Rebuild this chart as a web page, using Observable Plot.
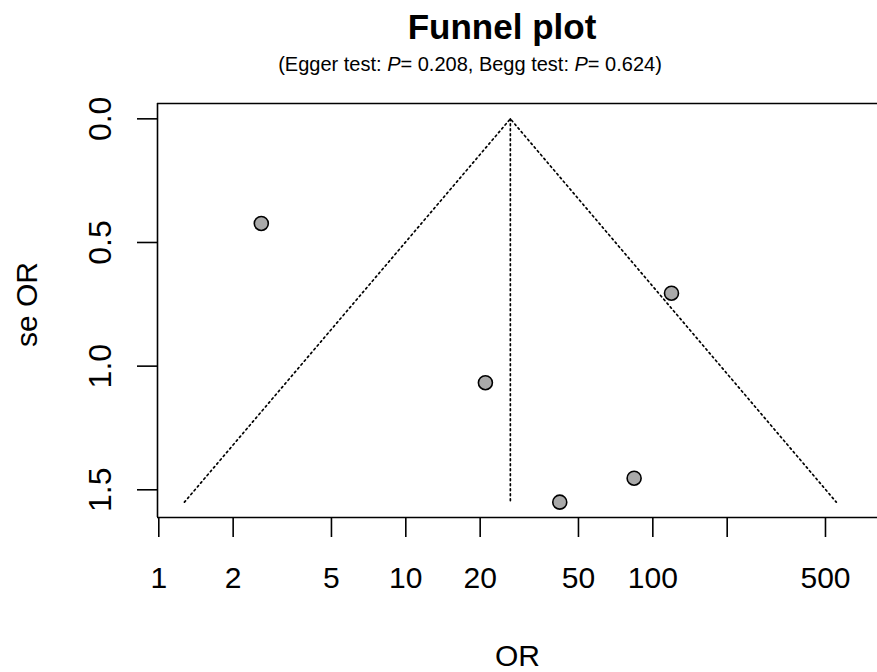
<!DOCTYPE html>
<html>
<head>
<meta charset="utf-8">
<script src="https://cdn.jsdelivr.net/npm/d3@7"></script>
<script src="https://cdn.jsdelivr.net/npm/@observablehq/plot@0.6"></script>
<style>
  html, body { margin: 0; padding: 0; background: #fff; }
  #wrap { position: relative; width: 877px; height: 672px; font-family: "Liberation Sans", Arial, sans-serif; color: #000; }
  #title { position: absolute; top: 9px; left: 502px; transform: translateX(-50%); font-size: 35px; font-weight: bold; line-height: 1; white-space: nowrap; }
  #subtitle { position: absolute; top: 54px; left: 470px; transform: translateX(-50%); font-size: 20px; line-height: 1; white-space: nowrap; }
  #chart svg { display: block; }
</style>
</head>
<body>
<div id="wrap">
  <div id="chart"></div>
  <div id="title">Funnel plot</div>
  <div id="subtitle">(Egger test: <i>P</i>= 0.208, Begg test: <i>P</i>= 0.624)</div>
</div>
<script>
// Study estimates (odds ratio, standard error)
const studyOR = [2.6, 21.0, 42.0, 84.0, 119.0];
const studySE = [0.423, 1.067, 1.55, 1.453, 0.705];

// Pooled estimate and pseudo-95% funnel limits
const pooledOR = 26.5;
const funnelOR = [1.27, 26.5, 553];
const funnelSE = [1.55, 0, 1.55];
const centerSE = [0, 1.55];

// Axis ticks
const xTicks = [1, 2, 5, 10, 20, 50, 100, 200, 500];
const xTickLabels = ["1", "2", "5", "10", "20", "50", "100", "", "500"];
const yTicks = [0, 0.5, 1.0, 1.5];
const yTickLabels = ["0.0", "0.5", "1.0", "1.5"];

const xDomain = [0.988, 812];
const yDomain = [-0.062, 1.612];

const studies = studyOR.map((d, i) => ({or: d, se: studySE[i]}));
const funnel = funnelOR.map((d, i) => ({or: d, se: funnelSE[i]}));
const center = centerSE.map(s => ({or: pooledOR, se: s}));

const font = "'Liberation Sans', Arial, sans-serif";

const chart = Plot.plot({
  width: 877,
  height: 672,
  marginLeft: 157,
  marginRight: 0,
  marginTop: 103,
  marginBottom: 155,
  style: {fontFamily: font, color: "#000", background: "#fff", overflow: "visible"},
  x: {type: "log", domain: xDomain, axis: null},
  y: {domain: yDomain, reverse: true, axis: null},
  marks: [
    // box
    Plot.ruleY(yDomain, {stroke: "#000", strokeWidth: 1.6}),
    Plot.ruleX([xDomain[0]], {stroke: "#000", strokeWidth: 1.6}),
    // x axis ticks
    Plot.axisX({
      ticks: xTicks,
      tickSize: 20,
      strokeWidth: 1.6,
      tickFormat: () => "",
      label: null
    }),
    // x tick labels
    Plot.text(xTicks, {
      x: d => d,
      frameAnchor: "bottom",
      dy: 49,
      lineAnchor: "top",
      textAnchor: "middle",
      fontSize: 30,
      text: (d, i) => xTickLabels[i]
    }),
    // y axis ticks
    Plot.axisY({
      ticks: yTicks,
      tickSize: 20,
      strokeWidth: 1.6,
      tickFormat: () => "",
      label: null
    }),
    // y tick labels (rotated)
    Plot.text(yTicks, {
      y: d => d,
      frameAnchor: "left",
      dx: -47,
      rotate: -90,
      lineAnchor: "bottom",
      textAnchor: "middle",
      fontSize: 32,
      text: (d, i) => yTickLabels[i]
    }),
    // axis titles
    Plot.text(["se OR"], {
      frameAnchor: "left",
      dx: -121,
      dy: -6,
      rotate: -90,
      lineAnchor: "bottom",
      textAnchor: "middle",
      fontSize: 30
    }),
    Plot.text(["OR"], {
      frameAnchor: "bottom",
      dy: 148,
      lineAnchor: "bottom",
      fontSize: 30
    }),
    // funnel
    Plot.line(funnel, {x: "or", y: "se", stroke: "#000", strokeWidth: 1.7, strokeDasharray: "1.7,3.3"}),
    Plot.line(center, {x: "or", y: "se", stroke: "#000", strokeWidth: 1.7, strokeDasharray: "1.7,3.3"}),
    // studies
    Plot.dot(studies, {x: "or", y: "se", r: 7, fill: "#a9a9a9", stroke: "#000", strokeWidth: 1.6})
  ]
});

document.getElementById("chart").appendChild(chart);
</script>
</body>
</html>
